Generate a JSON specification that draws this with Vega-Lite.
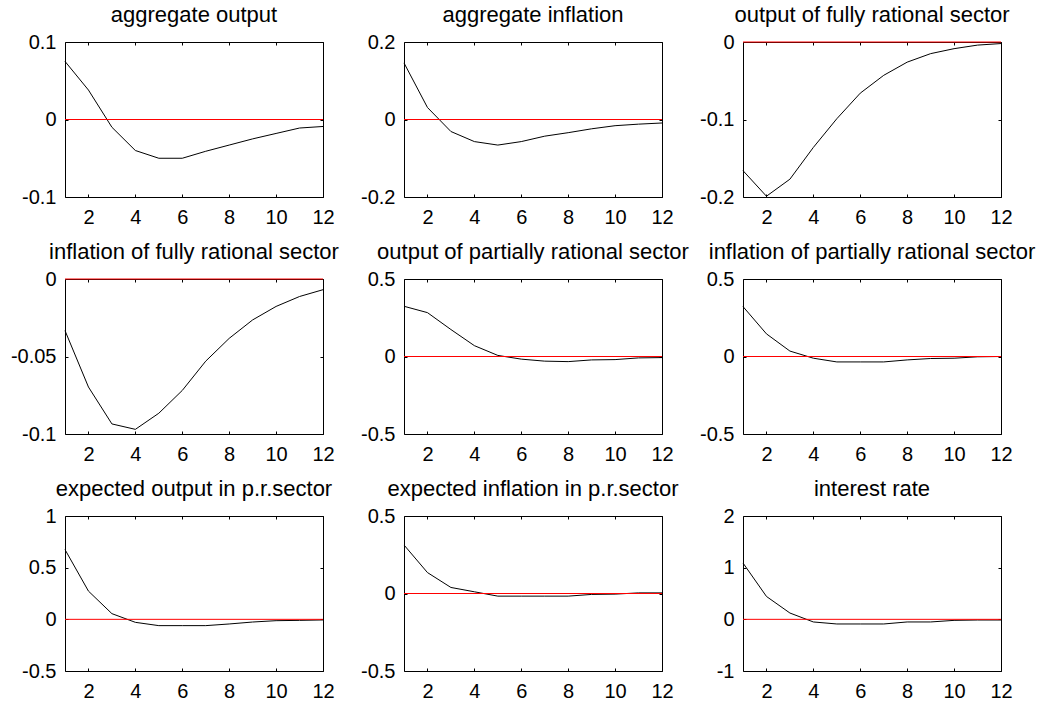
{
  "$schema": "https://vega.github.io/schema/vega-lite/v6.json",
  "padding": {"left": 9, "top": 3, "right": 5, "bottom": 5},
  "config": {
    "font": "Liberation Sans",
    "view": {"stroke": "black", "strokeWidth": 1},
    "axis": {"grid": false, "domain": false, "ticks": true, "tickSize": -3, "tickColor": "black", "tickWidth": 1, "labelColor": "black", "labelFontSize": 20, "labelFont": "Liberation Sans", "labelOverlap": false},
    "title": {"fontSize": 22, "fontWeight": "normal", "color": "black", "font": "Liberation Sans", "frame": "group", "baseline": "alphabetic", "offset": 5, "anchor": "middle"}
  },
  "datasets": {
    "irf": [
      {"p": 1, "t": 1, "v": 0.075}, {"p": 1, "t": 2, "v": 0.038}, {"p": 1, "t": 3, "v": -0.010}, {"p": 1, "t": 4, "v": -0.040}, {"p": 1, "t": 5, "v": -0.050}, {"p": 1, "t": 6, "v": -0.050}, {"p": 1, "t": 7, "v": -0.041}, {"p": 1, "t": 8, "v": -0.033}, {"p": 1, "t": 9, "v": -0.025}, {"p": 1, "t": 10, "v": -0.018}, {"p": 1, "t": 11, "v": -0.011}, {"p": 1, "t": 12, "v": -0.009},
      {"p": 2, "t": 1, "v": 0.146}, {"p": 2, "t": 2, "v": 0.031}, {"p": 2, "t": 3, "v": -0.031}, {"p": 2, "t": 4, "v": -0.057}, {"p": 2, "t": 5, "v": -0.066}, {"p": 2, "t": 6, "v": -0.057}, {"p": 2, "t": 7, "v": -0.043}, {"p": 2, "t": 8, "v": -0.034}, {"p": 2, "t": 9, "v": -0.024}, {"p": 2, "t": 10, "v": -0.016}, {"p": 2, "t": 11, "v": -0.012}, {"p": 2, "t": 12, "v": -0.009},
      {"p": 3, "t": 1, "v": -0.166}, {"p": 3, "t": 2, "v": -0.199}, {"p": 3, "t": 3, "v": -0.177}, {"p": 3, "t": 4, "v": -0.136}, {"p": 3, "t": 5, "v": -0.099}, {"p": 3, "t": 6, "v": -0.066}, {"p": 3, "t": 7, "v": -0.043}, {"p": 3, "t": 8, "v": -0.026}, {"p": 3, "t": 9, "v": -0.015}, {"p": 3, "t": 10, "v": -0.0086}, {"p": 3, "t": 11, "v": -0.004}, {"p": 3, "t": 12, "v": -0.002},
      {"p": 4, "t": 1, "v": -0.0333}, {"p": 4, "t": 2, "v": -0.0697}, {"p": 4, "t": 3, "v": -0.0935}, {"p": 4, "t": 4, "v": -0.097}, {"p": 4, "t": 5, "v": -0.0866}, {"p": 4, "t": 6, "v": -0.0719}, {"p": 4, "t": 7, "v": -0.053}, {"p": 4, "t": 8, "v": -0.0383}, {"p": 4, "t": 9, "v": -0.0264}, {"p": 4, "t": 10, "v": -0.0177}, {"p": 4, "t": 11, "v": -0.0113}, {"p": 4, "t": 12, "v": -0.0069},
      {"p": 5, "t": 1, "v": 0.324}, {"p": 5, "t": 2, "v": 0.283}, {"p": 5, "t": 3, "v": 0.174}, {"p": 5, "t": 4, "v": 0.070}, {"p": 5, "t": 5, "v": 0.007}, {"p": 5, "t": 6, "v": -0.017}, {"p": 5, "t": 7, "v": -0.030}, {"p": 5, "t": 8, "v": -0.033}, {"p": 5, "t": 9, "v": -0.022}, {"p": 5, "t": 10, "v": -0.020}, {"p": 5, "t": 11, "v": -0.009}, {"p": 5, "t": 12, "v": -0.007},
      {"p": 6, "t": 1, "v": 0.322}, {"p": 6, "t": 2, "v": 0.146}, {"p": 6, "t": 3, "v": 0.035}, {"p": 6, "t": 4, "v": -0.011}, {"p": 6, "t": 5, "v": -0.035}, {"p": 6, "t": 6, "v": -0.035}, {"p": 6, "t": 7, "v": -0.035}, {"p": 6, "t": 8, "v": -0.022}, {"p": 6, "t": 9, "v": -0.013}, {"p": 6, "t": 10, "v": -0.011}, {"p": 6, "t": 11, "v": -0.002}, {"p": 6, "t": 12, "v": 0.0},
      {"p": 7, "t": 1, "v": 0.675}, {"p": 7, "t": 2, "v": 0.273}, {"p": 7, "t": 3, "v": 0.055}, {"p": 7, "t": 4, "v": -0.029}, {"p": 7, "t": 5, "v": -0.061}, {"p": 7, "t": 6, "v": -0.061}, {"p": 7, "t": 7, "v": -0.061}, {"p": 7, "t": 8, "v": -0.045}, {"p": 7, "t": 9, "v": -0.026}, {"p": 7, "t": 10, "v": -0.013}, {"p": 7, "t": 11, "v": -0.010}, {"p": 7, "t": 12, "v": -0.006},
      {"p": 8, "t": 1, "v": 0.313}, {"p": 8, "t": 2, "v": 0.135}, {"p": 8, "t": 3, "v": 0.039}, {"p": 8, "t": 4, "v": 0.011}, {"p": 8, "t": 5, "v": -0.017}, {"p": 8, "t": 6, "v": -0.017}, {"p": 8, "t": 7, "v": -0.017}, {"p": 8, "t": 8, "v": -0.017}, {"p": 8, "t": 9, "v": -0.006}, {"p": 8, "t": 10, "v": -0.004}, {"p": 8, "t": 11, "v": 0.004}, {"p": 8, "t": 12, "v": 0.004},
      {"p": 9, "t": 1, "v": 1.09}, {"p": 9, "t": 2, "v": 0.443}, {"p": 9, "t": 3, "v": 0.122}, {"p": 9, "t": 4, "v": -0.051}, {"p": 9, "t": 5, "v": -0.09}, {"p": 9, "t": 6, "v": -0.09}, {"p": 9, "t": 7, "v": -0.09}, {"p": 9, "t": 8, "v": -0.051}, {"p": 9, "t": 9, "v": -0.051}, {"p": 9, "t": 10, "v": -0.02}, {"p": 9, "t": 11, "v": -0.013}, {"p": 9, "t": 12, "v": -0.013}
    ]
  },
  "columns": 3,
  "spacing": {"row": 82, "column": 81},
  "bounds": "flush",
  "concat": [
    {
      "width": 258, "height": 155, "title": "aggregate output",
      "layer": [
        {"data": {"name": "irf"}, "transform": [{"filter": "datum.p === 1"}],
         "mark": {"type": "line", "color": "black", "strokeWidth": 1},
         "encoding": {
           "x": {"field": "t", "type": "quantitative", "scale": {"domain": [1, 12], "nice": false, "zero": false}, "axis": {"orient": "bottom", "values": [2, 4, 6, 8, 10, 12], "title": null, "labelFlush": false, "labelBaseline": "top", "labelPadding": 13, "labelExpr": "toString(datum.value)"}},
           "y": {"field": "v", "type": "quantitative", "scale": {"domain": [-0.1, 0.1], "nice": false, "zero": false}, "axis": {"orient": "left", "values": [-0.1, 0, 0.1], "title": null, "labelPadding": 12, "labelExpr": "toString(datum.value)"}}
         }},
        {"data": {"values": [{"z": 0}]},
         "mark": {"type": "rule", "color": "#ff0000", "strokeWidth": 1},
         "encoding": {
           "x": {"datum": 1, "type": "quantitative", "scale": {"domain": [1, 12], "nice": false, "zero": false}, "axis": {"orient": "top", "values": [2, 4, 6, 8, 10, 12], "title": null, "labels": false}},
           "x2": {"datum": 12},
           "y": {"datum": 0, "type": "quantitative", "scale": {"domain": [-0.1, 0.1], "nice": false, "zero": false}, "axis": {"orient": "right", "values": [-0.1, 0, 0.1], "title": null, "labels": false}}
         }}
      ],
      "resolve": {"axis": {"x": "independent", "y": "independent"}}
    },
    {
      "width": 258, "height": 155, "title": "aggregate inflation",
      "layer": [
        {"data": {"name": "irf"}, "transform": [{"filter": "datum.p === 2"}],
         "mark": {"type": "line", "color": "black", "strokeWidth": 1},
         "encoding": {
           "x": {"field": "t", "type": "quantitative", "scale": {"domain": [1, 12], "nice": false, "zero": false}, "axis": {"orient": "bottom", "values": [2, 4, 6, 8, 10, 12], "title": null, "labelFlush": false, "labelBaseline": "top", "labelPadding": 13, "labelExpr": "toString(datum.value)"}},
           "y": {"field": "v", "type": "quantitative", "scale": {"domain": [-0.2, 0.2], "nice": false, "zero": false}, "axis": {"orient": "left", "values": [-0.2, 0, 0.2], "title": null, "labelPadding": 12, "labelExpr": "toString(datum.value)"}}
         }},
        {"data": {"values": [{"z": 0}]},
         "mark": {"type": "rule", "color": "#ff0000", "strokeWidth": 1},
         "encoding": {
           "x": {"datum": 1, "type": "quantitative", "scale": {"domain": [1, 12], "nice": false, "zero": false}, "axis": {"orient": "top", "values": [2, 4, 6, 8, 10, 12], "title": null, "labels": false}},
           "x2": {"datum": 12},
           "y": {"datum": 0, "type": "quantitative", "scale": {"domain": [-0.2, 0.2], "nice": false, "zero": false}, "axis": {"orient": "right", "values": [-0.2, 0, 0.2], "title": null, "labels": false}}
         }}
      ],
      "resolve": {"axis": {"x": "independent", "y": "independent"}}
    },
    {
      "width": 258, "height": 155, "title": "output of fully rational sector",
      "layer": [
        {"data": {"name": "irf"}, "transform": [{"filter": "datum.p === 3"}],
         "mark": {"type": "line", "color": "black", "strokeWidth": 1},
         "encoding": {
           "x": {"field": "t", "type": "quantitative", "scale": {"domain": [1, 12], "nice": false, "zero": false}, "axis": {"orient": "bottom", "values": [2, 4, 6, 8, 10, 12], "title": null, "labelFlush": false, "labelBaseline": "top", "labelPadding": 13, "labelExpr": "toString(datum.value)"}},
           "y": {"field": "v", "type": "quantitative", "scale": {"domain": [-0.2, 0], "nice": false, "zero": false}, "axis": {"orient": "left", "values": [-0.2, -0.1, 0], "title": null, "labelPadding": 12, "labelExpr": "toString(datum.value)"}}
         }},
        {"data": {"values": [{"z": 0}]},
         "mark": {"type": "rule", "color": "#ff0000", "strokeWidth": 1},
         "encoding": {
           "x": {"datum": 1, "type": "quantitative", "scale": {"domain": [1, 12], "nice": false, "zero": false}, "axis": {"orient": "top", "values": [2, 4, 6, 8, 10, 12], "title": null, "labels": false}},
           "x2": {"datum": 12},
           "y": {"datum": 0, "type": "quantitative", "scale": {"domain": [-0.2, 0], "nice": false, "zero": false}, "axis": {"orient": "right", "values": [-0.2, -0.1, 0], "title": null, "labels": false}}
         }}
      ],
      "resolve": {"axis": {"x": "independent", "y": "independent"}}
    },
    {
      "width": 258, "height": 155, "title": "inflation of fully rational sector",
      "layer": [
        {"data": {"name": "irf"}, "transform": [{"filter": "datum.p === 4"}],
         "mark": {"type": "line", "color": "black", "strokeWidth": 1},
         "encoding": {
           "x": {"field": "t", "type": "quantitative", "scale": {"domain": [1, 12], "nice": false, "zero": false}, "axis": {"orient": "bottom", "values": [2, 4, 6, 8, 10, 12], "title": null, "labelFlush": false, "labelBaseline": "top", "labelPadding": 13, "labelExpr": "toString(datum.value)"}},
           "y": {"field": "v", "type": "quantitative", "scale": {"domain": [-0.1, 0], "nice": false, "zero": false}, "axis": {"orient": "left", "values": [-0.1, -0.05, 0], "title": null, "labelPadding": 12, "labelExpr": "toString(datum.value)"}}
         }},
        {"data": {"values": [{"z": 0}]},
         "mark": {"type": "rule", "color": "#ff0000", "strokeWidth": 1},
         "encoding": {
           "x": {"datum": 1, "type": "quantitative", "scale": {"domain": [1, 12], "nice": false, "zero": false}, "axis": {"orient": "top", "values": [2, 4, 6, 8, 10, 12], "title": null, "labels": false}},
           "x2": {"datum": 12},
           "y": {"datum": 0, "type": "quantitative", "scale": {"domain": [-0.1, 0], "nice": false, "zero": false}, "axis": {"orient": "right", "values": [-0.1, -0.05, 0], "title": null, "labels": false}}
         }}
      ],
      "resolve": {"axis": {"x": "independent", "y": "independent"}}
    },
    {
      "width": 258, "height": 155, "title": "output of partially rational sector",
      "layer": [
        {"data": {"name": "irf"}, "transform": [{"filter": "datum.p === 5"}],
         "mark": {"type": "line", "color": "black", "strokeWidth": 1},
         "encoding": {
           "x": {"field": "t", "type": "quantitative", "scale": {"domain": [1, 12], "nice": false, "zero": false}, "axis": {"orient": "bottom", "values": [2, 4, 6, 8, 10, 12], "title": null, "labelFlush": false, "labelBaseline": "top", "labelPadding": 13, "labelExpr": "toString(datum.value)"}},
           "y": {"field": "v", "type": "quantitative", "scale": {"domain": [-0.5, 0.5], "nice": false, "zero": false}, "axis": {"orient": "left", "values": [-0.5, 0, 0.5], "title": null, "labelPadding": 12, "labelExpr": "toString(datum.value)"}}
         }},
        {"data": {"values": [{"z": 0}]},
         "mark": {"type": "rule", "color": "#ff0000", "strokeWidth": 1},
         "encoding": {
           "x": {"datum": 1, "type": "quantitative", "scale": {"domain": [1, 12], "nice": false, "zero": false}, "axis": {"orient": "top", "values": [2, 4, 6, 8, 10, 12], "title": null, "labels": false}},
           "x2": {"datum": 12},
           "y": {"datum": 0, "type": "quantitative", "scale": {"domain": [-0.5, 0.5], "nice": false, "zero": false}, "axis": {"orient": "right", "values": [-0.5, 0, 0.5], "title": null, "labels": false}}
         }}
      ],
      "resolve": {"axis": {"x": "independent", "y": "independent"}}
    },
    {
      "width": 258, "height": 155, "title": "inflation of partially rational sector",
      "layer": [
        {"data": {"name": "irf"}, "transform": [{"filter": "datum.p === 6"}],
         "mark": {"type": "line", "color": "black", "strokeWidth": 1},
         "encoding": {
           "x": {"field": "t", "type": "quantitative", "scale": {"domain": [1, 12], "nice": false, "zero": false}, "axis": {"orient": "bottom", "values": [2, 4, 6, 8, 10, 12], "title": null, "labelFlush": false, "labelBaseline": "top", "labelPadding": 13, "labelExpr": "toString(datum.value)"}},
           "y": {"field": "v", "type": "quantitative", "scale": {"domain": [-0.5, 0.5], "nice": false, "zero": false}, "axis": {"orient": "left", "values": [-0.5, 0, 0.5], "title": null, "labelPadding": 12, "labelExpr": "toString(datum.value)"}}
         }},
        {"data": {"values": [{"z": 0}]},
         "mark": {"type": "rule", "color": "#ff0000", "strokeWidth": 1},
         "encoding": {
           "x": {"datum": 1, "type": "quantitative", "scale": {"domain": [1, 12], "nice": false, "zero": false}, "axis": {"orient": "top", "values": [2, 4, 6, 8, 10, 12], "title": null, "labels": false}},
           "x2": {"datum": 12},
           "y": {"datum": 0, "type": "quantitative", "scale": {"domain": [-0.5, 0.5], "nice": false, "zero": false}, "axis": {"orient": "right", "values": [-0.5, 0, 0.5], "title": null, "labels": false}}
         }}
      ],
      "resolve": {"axis": {"x": "independent", "y": "independent"}}
    },
    {
      "width": 258, "height": 155, "title": "expected output in p.r.sector",
      "layer": [
        {"data": {"name": "irf"}, "transform": [{"filter": "datum.p === 7"}],
         "mark": {"type": "line", "color": "black", "strokeWidth": 1},
         "encoding": {
           "x": {"field": "t", "type": "quantitative", "scale": {"domain": [1, 12], "nice": false, "zero": false}, "axis": {"orient": "bottom", "values": [2, 4, 6, 8, 10, 12], "title": null, "labelFlush": false, "labelBaseline": "top", "labelPadding": 13, "labelExpr": "toString(datum.value)"}},
           "y": {"field": "v", "type": "quantitative", "scale": {"domain": [-0.5, 1], "nice": false, "zero": false}, "axis": {"orient": "left", "values": [-0.5, 0, 0.5, 1], "title": null, "labelPadding": 12, "labelExpr": "toString(datum.value)"}}
         }},
        {"data": {"values": [{"z": 0}]},
         "mark": {"type": "rule", "color": "#ff0000", "strokeWidth": 1},
         "encoding": {
           "x": {"datum": 1, "type": "quantitative", "scale": {"domain": [1, 12], "nice": false, "zero": false}, "axis": {"orient": "top", "values": [2, 4, 6, 8, 10, 12], "title": null, "labels": false}},
           "x2": {"datum": 12},
           "y": {"datum": 0, "type": "quantitative", "scale": {"domain": [-0.5, 1], "nice": false, "zero": false}, "axis": {"orient": "right", "values": [-0.5, 0, 0.5, 1], "title": null, "labels": false}}
         }}
      ],
      "resolve": {"axis": {"x": "independent", "y": "independent"}}
    },
    {
      "width": 258, "height": 155, "title": "expected inflation in p.r.sector",
      "layer": [
        {"data": {"name": "irf"}, "transform": [{"filter": "datum.p === 8"}],
         "mark": {"type": "line", "color": "black", "strokeWidth": 1},
         "encoding": {
           "x": {"field": "t", "type": "quantitative", "scale": {"domain": [1, 12], "nice": false, "zero": false}, "axis": {"orient": "bottom", "values": [2, 4, 6, 8, 10, 12], "title": null, "labelFlush": false, "labelBaseline": "top", "labelPadding": 13, "labelExpr": "toString(datum.value)"}},
           "y": {"field": "v", "type": "quantitative", "scale": {"domain": [-0.5, 0.5], "nice": false, "zero": false}, "axis": {"orient": "left", "values": [-0.5, 0, 0.5], "title": null, "labelPadding": 12, "labelExpr": "toString(datum.value)"}}
         }},
        {"data": {"values": [{"z": 0}]},
         "mark": {"type": "rule", "color": "#ff0000", "strokeWidth": 1},
         "encoding": {
           "x": {"datum": 1, "type": "quantitative", "scale": {"domain": [1, 12], "nice": false, "zero": false}, "axis": {"orient": "top", "values": [2, 4, 6, 8, 10, 12], "title": null, "labels": false}},
           "x2": {"datum": 12},
           "y": {"datum": 0, "type": "quantitative", "scale": {"domain": [-0.5, 0.5], "nice": false, "zero": false}, "axis": {"orient": "right", "values": [-0.5, 0, 0.5], "title": null, "labels": false}}
         }}
      ],
      "resolve": {"axis": {"x": "independent", "y": "independent"}}
    },
    {
      "width": 258, "height": 155, "title": "interest rate",
      "layer": [
        {"data": {"name": "irf"}, "transform": [{"filter": "datum.p === 9"}],
         "mark": {"type": "line", "color": "black", "strokeWidth": 1},
         "encoding": {
           "x": {"field": "t", "type": "quantitative", "scale": {"domain": [1, 12], "nice": false, "zero": false}, "axis": {"orient": "bottom", "values": [2, 4, 6, 8, 10, 12], "title": null, "labelFlush": false, "labelBaseline": "top", "labelPadding": 13, "labelExpr": "toString(datum.value)"}},
           "y": {"field": "v", "type": "quantitative", "scale": {"domain": [-1, 2], "nice": false, "zero": false}, "axis": {"orient": "left", "values": [-1, 0, 1, 2], "title": null, "labelPadding": 12, "labelExpr": "toString(datum.value)"}}
         }},
        {"data": {"values": [{"z": 0}]},
         "mark": {"type": "rule", "color": "#ff0000", "strokeWidth": 1},
         "encoding": {
           "x": {"datum": 1, "type": "quantitative", "scale": {"domain": [1, 12], "nice": false, "zero": false}, "axis": {"orient": "top", "values": [2, 4, 6, 8, 10, 12], "title": null, "labels": false}},
           "x2": {"datum": 12},
           "y": {"datum": 0, "type": "quantitative", "scale": {"domain": [-1, 2], "nice": false, "zero": false}, "axis": {"orient": "right", "values": [-1, 0, 1, 2], "title": null, "labels": false}}
         }}
      ],
      "resolve": {"axis": {"x": "independent", "y": "independent"}}
    }
  ]
}
